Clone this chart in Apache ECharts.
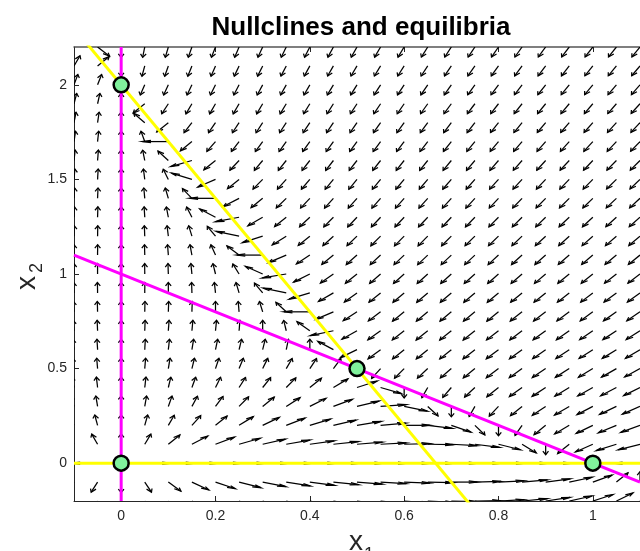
<!DOCTYPE html>
<html>
<head>
<meta charset="utf-8">
<script src="https://cdn.jsdelivr.net/npm/echarts@6/dist/echarts.min.js"></script>
<style>
  html, body { margin: 0; padding: 0; background: #fff; }
  #chart { width: 640px; height: 551px; }
</style>
</head>
<body>
<div id="chart"></div>
<script>
// Sample grid for the direction field
const x1Grid = [-0.1, -0.05, 0, 0.05, 0.1, 0.15, 0.2, 0.25, 0.3, 0.35, 0.4, 0.45, 0.5,
                0.55, 0.6, 0.65, 0.7, 0.75, 0.8, 0.85, 0.9, 0.95, 1, 1.05, 1.1];
const x2Grid = [-0.2, -0.1, 0, 0.1, 0.2, 0.3, 0.4, 0.5, 0.6, 0.7, 0.8, 0.9, 1,
                1.1, 1.2, 1.3, 1.4, 1.5, 1.6, 1.7, 1.8, 1.9, 2, 2.1, 2.2];

// Competition model: x1' = x1 (r1 - a11 x1 - a12 x2), x2' = x2 (r2 - a21 x1 - a22 x2)
const growthRate = [1, 2];
const interaction = [[1, 1], [3, 1]];

// Nullclines of x1 (magenta): x1 = 0 and x1 + x2 = 1
const x1NullVertX = [0, 0];
const x1NullVertY = [-0.2, 2.2];
const x1NullDiagX = [-0.1, 1.1];
const x1NullDiagY = [1.1, -0.1];
// Nullclines of x2 (yellow): x2 = 0 and 3 x1 + x2 = 2
const x2NullHorzX = [-0.1, 1.1];
const x2NullHorzY = [0, 0];
const x2NullDiagX = [-0.1, 0.8];
const x2NullDiagY = [2.3, -0.4];

// Equilibria
const eqX1 = [0, 0, 0.5, 1];
const eqX2 = [0, 2, 0.5, 0];

// Axis ticks
const xTicks = [0, 0.2, 0.4, 0.6, 0.8, 1];
const yTicks = [0, 0.5, 1, 1.5, 2];

const ARROW_LEN = 0.055;   // drawn length of each unit direction, data units
const HEAD_ALPHA = 0.33, HEAD_BETA = 0.33;
const FONT = "'Liberation Sans', Arial, Helvetica, sans-serif";

function rates(a, b) {
  const du = a * (growthRate[0] - interaction[0][0] * a - interaction[0][1] * b);
  const dv = b * (growthRate[1] - interaction[1][0] * a - interaction[1][1] * b);
  return [du, dv];
}

const field = [];
for (const b of x2Grid) {
  for (const a of x1Grid) {
    const [du, dv] = rates(a, b);
    const m = Math.hypot(du, dv);
    if (m < 1e-12) continue;
    field.push([a, b, du / m * ARROW_LEN, dv / m * ARROW_LEN]);
  }
}

function pairs(xs, ys) { return xs.map((v, i) => [v, ys[i]]); }

const chart = echarts.init(document.getElementById('chart'), null, { renderer: 'canvas' });

const axisColor = '#262626';
const option = {
  backgroundColor: '#ffffff',
  animation: false,
  grid: { left: 74, right: -9, top: 47, bottom: 50, containLabel: false },
  xAxis: [{
    type: 'value', min: -0.1, max: 1.1,
    axisLine: { show: true, onZero: false, lineStyle: { color: axisColor, width: 1 } },
    axisTick: { show: true, inside: true, length: 5, customValues: xTicks, lineStyle: { color: axisColor } },
    axisLabel: { show: true, customValues: xTicks, margin: 8, color: axisColor, fontSize: 14, fontFamily: FONT,
                 formatter: v => String(v) },
    splitLine: { show: false }
  }, {
    type: 'value', min: -0.1, max: 1.1, position: 'top',
    axisLine: { show: true, onZero: false, lineStyle: { color: '#555', width: 1.5 } },
    axisTick: { show: true, inside: true, length: 5, customValues: xTicks, lineStyle: { color: axisColor } },
    axisLabel: { show: false },
    splitLine: { show: false }
  }],
  yAxis: [{
    type: 'value', min: -0.2, max: 2.2,
    axisLine: { show: true, onZero: false, lineStyle: { color: axisColor, width: 1 } },
    axisTick: { show: true, inside: true, length: 5, customValues: yTicks, lineStyle: { color: axisColor } },
    axisLabel: { show: true, customValues: yTicks, margin: 7, color: axisColor, fontSize: 14, fontFamily: FONT,
                 formatter: v => String(v) },
    splitLine: { show: false }
  }],
  graphic: [
    { type: 'text', x: 361, y: 28, z: 100,
      style: { text: 'Nullclines and equilibria', fill: '#000', font: 'bold 26px ' + FONT,
               textAlign: 'center', textVerticalAlign: 'middle' } },
    { type: 'text', x: 349, y: 542, z: 100,
      style: { text: 'x', fill: axisColor, font: '28px ' + FONT, textAlign: 'left', textVerticalAlign: 'middle' } },
    { type: 'text', x: 364, y: 555, z: 100,
      style: { text: '1', fill: axisColor, font: '18px ' + FONT, textAlign: 'left', textVerticalAlign: 'middle' } },
    { type: 'group', x: 27, y: 290, rotation: Math.PI / 2, z: 100, children: [
      { type: 'text', x: 0, y: 0,
        style: { text: 'x', fill: axisColor, font: '28px ' + FONT, textAlign: 'left', textVerticalAlign: 'middle' } },
      { type: 'text', x: 17, y: 10,
        style: { text: '2', fill: axisColor, font: '18px ' + FONT, textAlign: 'left', textVerticalAlign: 'middle' } }
    ] }
  ],
  series: [
    {
      type: 'custom', name: 'direction field', clip: true, z: 1,
      data: field,
      encode: { x: 0, y: 1 },
      renderItem: function (params, api) {
        const x = api.value(0), y = api.value(1), u = api.value(2), v = api.value(3);
        const tip = [x + u, y + v];
        const w1 = [tip[0] - HEAD_ALPHA * (u + HEAD_BETA * v), tip[1] - HEAD_ALPHA * (v - HEAD_BETA * u)];
        const w2 = [tip[0] - HEAD_ALPHA * (u - HEAD_BETA * v), tip[1] - HEAD_ALPHA * (v + HEAD_BETA * u)];
        const st = { stroke: '#000', lineWidth: 1.25, fill: null, lineJoin: 'miter' };
        return {
          type: 'group',
          children: [
            { type: 'polyline', shape: { points: [api.coord([x, y]), api.coord(tip)] }, style: st },
            { type: 'polyline', shape: { points: [api.coord(w1), api.coord(tip), api.coord(w2)] }, style: st }
          ]
        };
      }
    },
    { type: 'line', z: 3, data: pairs(x2NullHorzX, x2NullHorzY), showSymbol: false, clip: true,
      lineStyle: { color: '#ffff00', width: 3 } },
    { type: 'line', z: 3, data: pairs(x2NullDiagX, x2NullDiagY), showSymbol: false, clip: true,
      lineStyle: { color: '#ffff00', width: 3 } },
    { type: 'line', z: 4, data: pairs(x1NullVertX, x1NullVertY), showSymbol: false, clip: true,
      lineStyle: { color: '#ff00ff', width: 3 } },
    { type: 'line', z: 4, data: pairs(x1NullDiagX, x1NullDiagY), showSymbol: false, clip: true,
      lineStyle: { color: '#ff00ff', width: 3 } },
    { type: 'scatter', z: 6, data: pairs(eqX1, eqX2), symbol: 'circle', symbolSize: 15,
      itemStyle: { color: '#80f29c', borderColor: '#000', borderWidth: 2.5, opacity: 1 } }
  ]
};
chart.setOption(option);
</script>
</body>
</html>
